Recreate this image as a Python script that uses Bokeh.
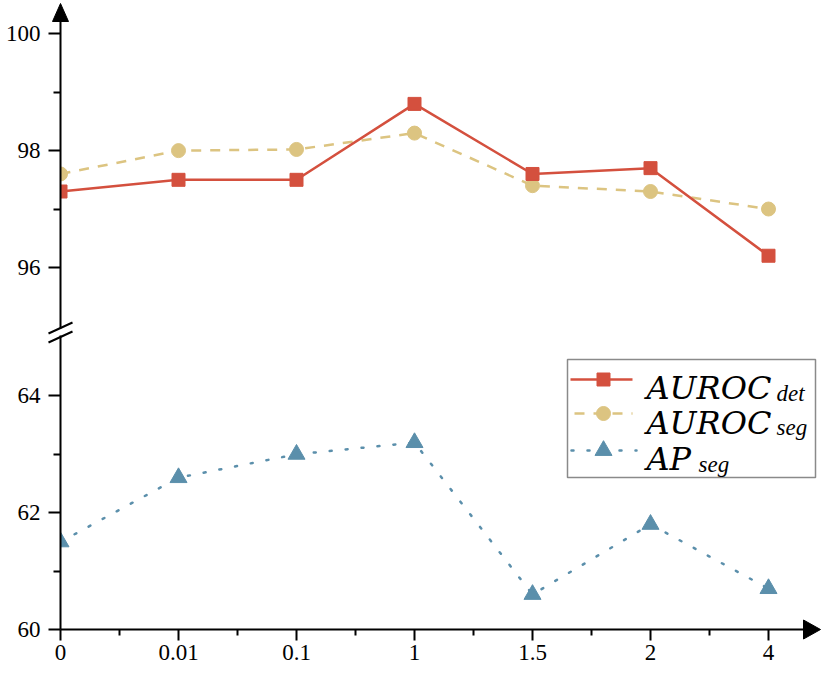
from bokeh.plotting import figure
from bokeh.models import Range1d, FixedTicker
from bokeh.core.properties import value
from bokeh.embed import file_html
from bokeh.resources import INLINE

# ---------------- data ----------------
categories = ["0", "0.01", "0.1", "1", "1.5", "2", "4"]
auroc_det = [97.3, 97.5, 97.5, 98.8, 97.6, 97.7, 96.2]
auroc_seg = [97.6, 98.0, 98.02, 98.3, 97.4, 97.3, 97.0]
ap_seg = [61.5, 62.6, 63.0, 63.2, 60.6, 61.8, 60.7]
lower_ticks = [60, 62, 64]
lower_minor = [61, 63]
upper_ticks = [96, 98, 100]
upper_minor = [97, 99]

RED = "#d4503e"
TAN = "#dcc481"
BLUE = "#5b8fab"

# broken axis: upper block (95..100) shifted down next to lower block (60..65)
OFF = 29.8
def up(v):
    return round(v - OFF, 6)

# pixel helpers (page coordinates -> data coordinates)
W, H = 822, 676
XPX, X0PX = 118.0, 60.0
YPX, Y0PX = 58.4, 629.0
def xd(px):
    return (px - X0PX) / XPX
def yd(py):
    return 60 + (Y0PX - py) / YPX

p = figure(width=W, height=H, output_backend="svg", toolbar_location=None,
           x_range=Range1d(xd(0), xd(W)), y_range=Range1d(yd(H), yd(0)),
           min_border=0)
p.outline_line_color = None
p.grid.visible = False
p.background_fill_color = "white"
p.border_fill_color = "white"

xs = list(range(len(categories)))

# ---------------- axes ----------------
xa = p.xaxis[0]
xa.fixed_location = 60
xa.ticker = FixedTicker(ticks=xs, minor_ticks=[i + 0.5 for i in xs[:-1]])
xa.major_label_overrides = {i: c for i, c in zip(xs, categories)}
ya = p.yaxis[0]
ya.fixed_location = 0
ymaj = lower_ticks + [up(v) for v in upper_ticks]
ymin = lower_minor + [up(v) for v in upper_minor]
ya.ticker = FixedTicker(ticks=ymaj, minor_ticks=ymin)
ov = {v: str(v) for v in lower_ticks}
ov.update({up(v): str(v) for v in upper_ticks})
ya.major_label_overrides = ov
for ax in (xa, ya):
    ax.axis_line_color = None
    ax.major_tick_line_color = "black"
    ax.minor_tick_line_color = "black"
    ax.major_tick_line_width = 2
    ax.minor_tick_line_width = 2
    ax.major_tick_in = 0
    ax.minor_tick_in = 0
    ax.major_label_text_font = "Liberation Serif"
    ax.major_label_text_font_size = "23px"
    ax.major_label_text_color = "black"
xa.major_tick_out = 11
xa.minor_tick_out = 6
xa.major_label_standoff = 4
ya.major_tick_out = 12
ya.minor_tick_out = 7
ya.major_label_standoff = 8

# ---------------- series ----------------
det_y = [up(v) for v in auroc_det]
seg_y = [up(v) for v in auroc_seg]
p.line(xs, seg_y, color=TAN, line_width=2.5, line_dash="10 9")
p.scatter(xs, seg_y, marker="circle", size=14, color=TAN)
p.line(xs, det_y, color=RED, line_width=2.5)
p.scatter(xs, det_y, marker="square", size=13, color=RED)
p.line(xs, ap_seg, color=BLUE, line_width=2.5, line_dash="2 14", line_cap="round")
p.scatter(xs, ap_seg, marker="triangle", size=17, color=BLUE)

# white mask left of the y axis (markers clipped at axis)
p.quad(left=[xd(0)], right=[0], bottom=[yd(H)], top=[yd(0)],
       fill_color="white", line_color=None)

# axis lines with break and arrows
brk_lo, brk_hi = yd(335), yd(328)
p.segment(x0=[0, 0, 0], y0=[60, brk_hi, 60], x1=[0, 0, xd(805)], y1=[brk_lo, yd(20), 60],
          line_color="black", line_width=2)
p.segment(x0=[xd(48), xd(48)], y0=[yd(333), yd(342)], x1=[xd(72), xd(72)], y1=[yd(322), yd(331)],
          line_color="black", line_width=2)
p.patch(x=[xd(60), xd(52), xd(68)], y=[yd(3), yd(21), yd(21)], color="black")
p.patch(x=[xd(820), xd(803), xd(803)], y=[60, yd(619.5), yd(638.5)], color="black")

# ---------------- legend ----------------
p.quad(left=[xd(567)], right=[xd(815)], top=[yd(359)], bottom=[yd(477)],
       fill_color="white", line_color="#8a8a8a", line_width=1.5)
rows = [yd(379), yd(413), yd(450)]
p.segment(x0=[xd(570)], y0=[rows[0]], x1=[xd(632)], y1=[rows[0]], color=RED, line_width=2.5)
p.scatter([xd(603)], [rows[0]], marker="square", size=13, color=RED)
p.segment(x0=[xd(570)], y0=[rows[1]], x1=[xd(632)], y1=[rows[1]], color=TAN, line_width=2.5,
          line_dash="10 9", line_dash_offset=-4)
p.scatter([xd(603)], [rows[1]], marker="circle", size=14, color=TAN)
p.segment(x0=[xd(571)], y0=[rows[2]], x1=[xd(636)], y1=[rows[2]], color=BLUE, line_width=2.5,
          line_dash="2 14", line_cap="round")
p.scatter([xd(603)], [rows[2]], marker="triangle", size=17, color=BLUE)

main_font = value("DejaVu Serif")
sub_font = value("Liberation Serif")
p.text(x=[xd(646), xd(646), xd(646)], y=[yd(387), yd(422), yd(458)],
       text=["AUROC", "AUROC", "AP"], text_font=main_font, text_font_style="italic",
       text_font_size="32px", text_baseline="alphabetic", text_align="left", text_color="black")
p.text(x=[xd(776), xd(776), xd(698)], y=[yd(393), yd(427), yd(464)],
       text=["det", "seg", "seg"], text_font=sub_font, text_font_style="italic",
       text_font_size="23px", text_baseline="alphabetic", text_align="left", text_color="black")

open("out.html", "w").write(file_html(p, INLINE))
